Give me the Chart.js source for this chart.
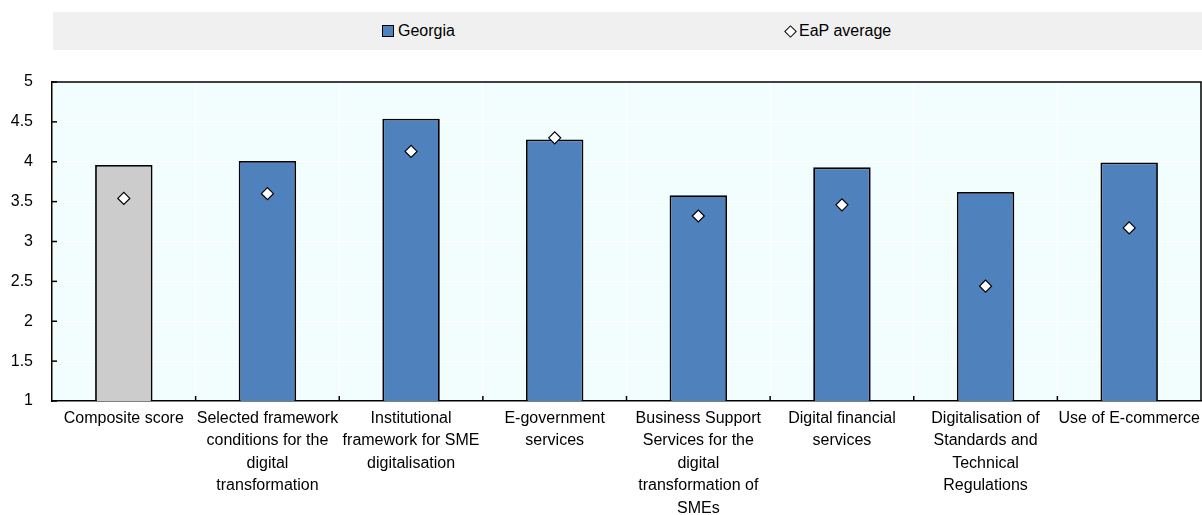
<!DOCTYPE html>
<html>
<head>
<meta charset="utf-8">
<script src="https://cdn.jsdelivr.net/npm/chart.js@4.4.0/dist/chart.umd.min.js"></script>
<style>
  html, body { margin: 0; padding: 0; background: #ffffff; }
  #wrap { position: relative; width: 1202px; height: 515px; overflow: hidden; }
  #chart { position: absolute; left: 0; top: 0; }
  #legend { position: absolute; left: 53px; top: 12px; width: 1149px; height: 38px; background: #f0f0f0;
            font-family: 'Liberation Sans', Arial, sans-serif; font-size: 16px; color: #000; }
  .lg-text { position: absolute; top: 0; height: 38px; line-height: 38px; white-space: nowrap; }
  .lg-box { position: absolute; left: 329px; top: 13px; width: 10px; height: 10px; background: #4f81bd; border: 1.5px solid #000; }
  .lg-dia { position: absolute; left: 733px; top: 15px; width: 7px; height: 7px; background: #fff; border: 1.3px solid #000; transform: rotate(45deg); }
</style>
</head>
<body>
<div id="wrap">
  <canvas id="chart" width="1202" height="515"></canvas>
  <div id="legend">
    <div class="lg-box"></div><div class="lg-text" style="left:345px;">Georgia</div>
    <div class="lg-dia"></div><div class="lg-text" style="left:746px;">EaP average</div>
  </div>
</div>
<script>
// ---- Data ----
const categories = [
  "Composite score",
  ["Selected framework", "conditions for the", "digital", "transformation"],
  ["Institutional", "framework for SME", "digitalisation"],
  ["E-government", "services"],
  ["Business Support", "Services for the", "digital", "transformation of", "SMEs"],
  ["Digital financial", "services"],
  ["Digitalisation of", "Standards and", "Technical", "Regulations"],
  "Use of E-commerce"
];
const georgiaValues = [3.96, 4.01, 4.54, 4.28, 3.58, 3.93, 3.62, 3.99];
const eapAverage   = [3.54, 3.60, 4.13, 4.30, 3.32, 3.46, 2.44, 3.17];
const seriesNames  = ["Georgia", "EaP average"];
const yTicks = [1, 1.5, 2, 2.5, 3, 3.5, 4, 4.5, 5];

// ---- Styles ----
const FONT = "'Liberation Sans', Arial, sans-serif";
const BLUE = '#4f81bd';
const GREY = '#cccccc';
const barColors = categories.map((c, i) => i === 0 ? GREY : BLUE);

const decorPlugin = {
  id: 'decor',
  beforeDraw(chart) {
    const { ctx, chartArea: a } = chart;
    ctx.save();
    ctx.fillStyle = '#f2fefe';
    ctx.fillRect(a.left, a.top, a.right - a.left, a.bottom - a.top);
    ctx.restore();
  },
  afterDraw(chart) {
    const { ctx, chartArea: a, scales } = chart;
    ctx.save();
    ctx.strokeStyle = '#000';
    ctx.lineWidth = 1.5;
    ctx.beginPath();
    ctx.moveTo(a.left, a.top);
    ctx.lineTo(a.right, a.top);
    ctx.lineTo(a.right, a.bottom);
    ctx.stroke();
    const xs = scales.x;
    for (let i = 1; i < categories.length; i++) {
      const px = (xs.getPixelForTick(i - 1) + xs.getPixelForTick(i)) / 2;
      ctx.beginPath();
      ctx.moveTo(px, a.bottom);
      ctx.lineTo(px, a.bottom - 5);
      ctx.stroke();
    }
    const ys = scales.y;
    yTicks.forEach(v => {
      const py = ys.getPixelForValue(v);
      ctx.beginPath();
      ctx.moveTo(a.left, py);
      ctx.lineTo(a.left + 5, py);
      ctx.stroke();
    });
    ctx.restore();
  }
};

new Chart(document.getElementById('chart'), {
  data: {
    labels: categories,
    datasets: [
      {
        type: 'line',
        label: seriesNames[1],
        data: eapAverage,
        showLine: false,
        clip: false,
        pointStyle: 'rectRot',
        pointRadius: 6,
        pointHoverRadius: 6,
        pointBackgroundColor: '#ffffff',
        pointBorderColor: '#000000',
        pointBorderWidth: 1.2,
        order: 0
      },
      {
        type: 'bar',
        label: seriesNames[0],
        data: georgiaValues,
        backgroundColor: barColors,
        borderColor: '#000000',
        borderWidth: 1.8,
        categoryPercentage: 1.0,
        barPercentage: 0.4,
        order: 1
      }
    ]
  },
  options: {
    responsive: false,
    animation: false,
    devicePixelRatio: 1,
    layout: { autoPadding: false, padding: { top: 82, right: 1, left: 0, bottom: 0 } },
    plugins: {
      legend: { display: false },
      tooltip: { enabled: false }
    },
    scales: {
      x: {
        offset: true,
        grid: { offset: true, color: '#ffffff', lineWidth: 1, drawTicks: false },
        border: { color: '#000000', width: 1.5 },
        ticks: {
          autoSkip: false, maxRotation: 0, minRotation: 0, padding: 6,
          color: '#000000',
          font: { family: FONT, size: 16, lineHeight: 22.5 / 16 }
        },
        afterFit(scale) { scale.height = 114; scale.paddingLeft = 0; scale.paddingRight = 0; }
      },
      y: {
        min: 1, max: 5,
        afterBuildTicks(scale) { scale.ticks = yTicks.map(v => ({ value: v })); },
        grid: { color: '#ffffff', lineWidth: 1, drawTicks: false },
        border: { color: '#000000', width: 1.5 },
        ticks: {
          padding: 19,
          color: '#000000',
          font: { family: FONT, size: 16 },
          callback: (v) => String(v)
        },
        afterFit(scale) { scale.width = 52; scale.paddingTop = 0; scale.paddingBottom = 0; }
      }
    }
  },
  plugins: [decorPlugin]
});
</script>
</body>
</html>
